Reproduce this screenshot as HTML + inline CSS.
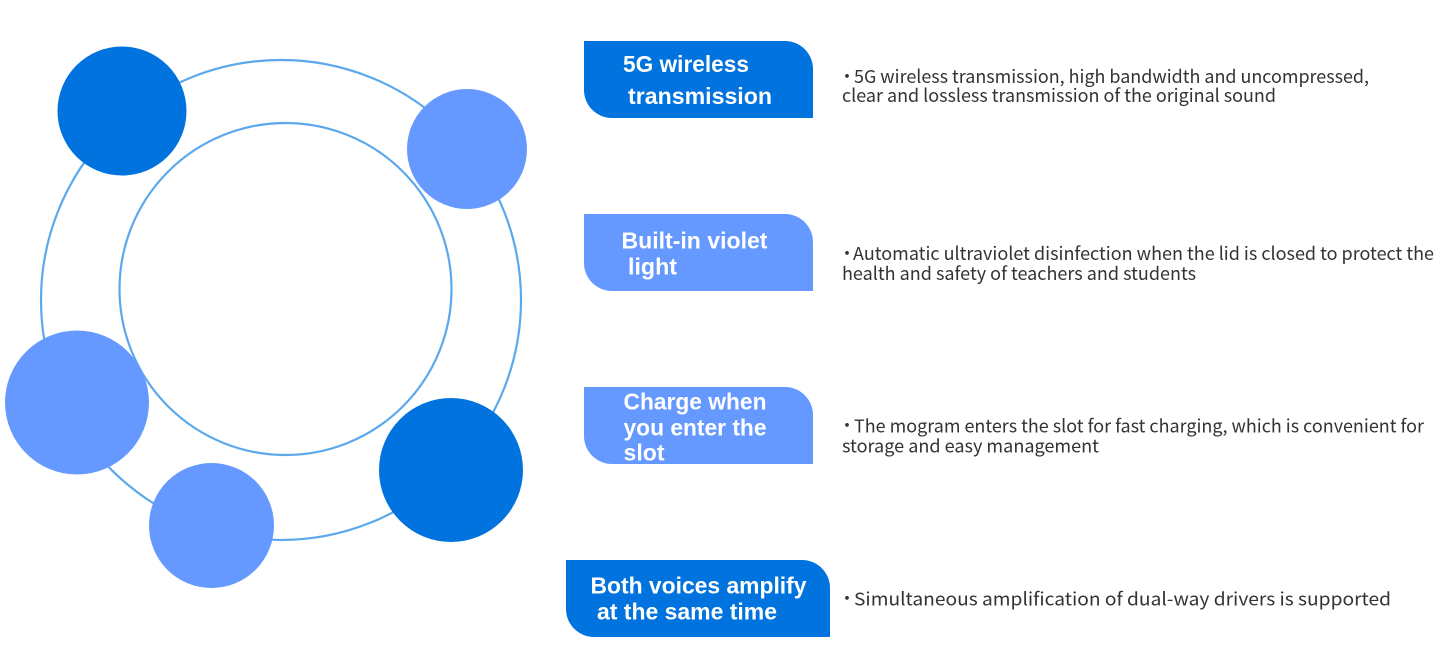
<!DOCTYPE html>
<html><head><meta charset="utf-8"><style>
html,body{margin:0;padding:0;background:#fff;width:1440px;height:669px;overflow:hidden}
svg{display:block}
.h{font-family:"Liberation Sans",sans-serif;font-weight:700;font-size:23px;fill:#fff}
.t{font-family:"Noto Sans CJK SC","Liberation Sans",sans-serif;font-size:18px;fill:#333}
</style></head><body>
<svg width="1440" height="669" viewBox="0 0 1440 669" xmlns="http://www.w3.org/2000/svg">
<rect width="1440" height="669" fill="#fff"/>
<circle cx="281" cy="300" r="240" fill="none" stroke="#5BA8EC" stroke-width="2.2"/>
<circle cx="285.500" cy="289" r="166" fill="none" stroke="#5BA8EC" stroke-width="2.2"/>
<circle cx="122" cy="111" r="64.500" fill="#0073DE"/>
<circle cx="467" cy="149" r="60" fill="#6699FF"/>
<circle cx="77" cy="402.500" r="72" fill="#6699FF"/>
<circle cx="451" cy="470" r="72" fill="#0073DE"/>
<circle cx="211.500" cy="525.500" r="62.500" fill="#6699FF"/>
<path d="M584 41H785A28 28 0 0 1 813 69V118H612A28 28 0 0 1 584 90Z" fill="#0073DE"/>
<path d="M584 214H785A28 28 0 0 1 813 242V291H612A28 28 0 0 1 584 263Z" fill="#6699FF"/>
<path d="M584 387H785A28 28 0 0 1 813 415V464H612A28 28 0 0 1 584 436Z" fill="#6699FF"/>
<path d="M566 560H802A28 28 0 0 1 830 588V637H594A28 28 0 0 1 566 609Z" fill="#0073DE"/>
<text class="h" x="623" y="72" textLength="126" lengthAdjust="spacingAndGlyphs">5G wireless</text>
<text class="h" x="628" y="104" textLength="144" lengthAdjust="spacingAndGlyphs">transmission</text>
<text class="h" x="621.500" y="248.500" textLength="146" lengthAdjust="spacingAndGlyphs">Built-in violet</text>
<text class="h" x="628" y="274.500" textLength="49" lengthAdjust="spacingAndGlyphs">light</text>
<text class="h" x="623.500" y="409.500" textLength="143" lengthAdjust="spacingAndGlyphs">Charge when</text>
<text class="h" x="623.500" y="435.500" textLength="143" lengthAdjust="spacingAndGlyphs">you enter the</text>
<text class="h" x="623.500" y="460.500" textLength="41" lengthAdjust="spacingAndGlyphs">slot</text>
<text class="h" x="590.500" y="593.500" textLength="216" lengthAdjust="spacingAndGlyphs">Both voices amplify</text>
<text class="h" x="597" y="619.500" textLength="180" lengthAdjust="spacingAndGlyphs">at the same time</text>
<text class="t" x="838" y="83">·</text>
<text class="t" x="854" y="83" textLength="515" lengthAdjust="spacingAndGlyphs">5G wireless transmission, high bandwidth and uncompressed,</text>
<text class="t" x="842" y="102" textLength="434" lengthAdjust="spacingAndGlyphs">clear and lossless transmission of the original sound</text>
<text class="t" x="838" y="260">·</text>
<text class="t" x="853" y="260" textLength="581" lengthAdjust="spacingAndGlyphs">Automatic ultraviolet disinfection when the lid is closed to protect the</text>
<text class="t" x="842" y="280" textLength="354" lengthAdjust="spacingAndGlyphs">health and safety of teachers and students</text>
<text class="t" x="838" y="432">·</text>
<text class="t" x="854" y="432.500" textLength="570" lengthAdjust="spacingAndGlyphs">The mogram enters the slot for fast charging, which is convenient for</text>
<text class="t" x="842" y="452.500" textLength="257" lengthAdjust="spacingAndGlyphs">storage and easy management</text>
<text class="t" x="838" y="605">·</text>
<text class="t" x="854" y="605.500" textLength="537" lengthAdjust="spacingAndGlyphs">Simultaneous amplification of dual-way drivers is supported</text>
</svg>
</body></html>
